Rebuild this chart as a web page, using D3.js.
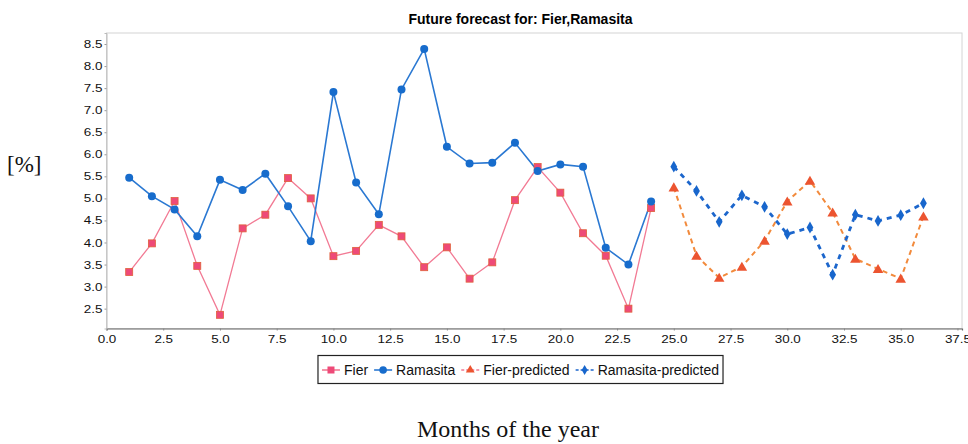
<!DOCTYPE html>
<html>
<head>
<meta charset="utf-8">
<script src="https://cdn.jsdelivr.net/npm/d3@7/dist/d3.min.js"></script>
<style>
  html, body { margin: 0; padding: 0; background: #fff; }
  svg { display: block; }
</style>
</head>
<body>
<div id="chart"></div>
<script>
// observed months
const months = [1, 2, 3, 4, 5, 6, 7, 8, 9, 10, 11, 12, 13, 14, 15, 16, 17, 18, 19, 20, 21, 22, 23, 24]
const fier = [3.33, 3.98, 4.94, 3.47, 2.36, 4.32, 4.63, 5.46, 5.00, 3.69, 3.81, 4.40,
              4.14, 3.44, 3.89, 3.18, 3.55, 4.96, 5.71, 5.13, 4.21, 3.70, 2.50, 4.78]
const ramasita = [5.47, 5.05, 4.75, 4.14, 5.42, 5.19, 5.56, 4.82, 4.03, 7.41, 5.36, 4.64,
                  7.47, 8.39, 6.17, 5.79, 5.81, 6.26, 5.62, 5.77, 5.72, 3.88, 3.50, 4.93]

// forecast months
const futureMonths = [25, 26, 27, 28, 29, 30, 31, 32, 33, 34, 35, 36]
const fierPredicted = [5.25, 3.70, 3.20, 3.45, 4.04, 4.93, 5.40, 4.68, 3.63, 3.40, 3.18, 4.59]
const ramasitaPredicted = [5.72, 5.17, 4.47, 5.07, 4.81, 4.19, 4.34, 3.27, 4.63, 4.49, 4.62, 4.89]

const xTicks = [0, 2.5, 5, 7.5, 10, 12.5, 15, 17.5, 20, 22.5, 25, 27.5, 30, 32.5, 35, 37.5]
const yTicks = [2.5, 3, 3.5, 4, 4.5, 5, 5.5, 6, 6.5, 7, 7.5, 8, 8.5]

const seriesNames = ["Fier", "Ramasita", "Fier-predicted", "Ramasita-predicted"]

const W = 968, H = 444
const plot = { left: 106.5, right: 962, top: 33, bottom: 328.5 }

const COLORS = {
  fierLine: "#f27a94",
  fierFill: "#ee4a78",
  fierEdge: "#e0603a",
  ramLine: "#2a78d2",
  ramFill: "#176ccc",
  fpLine: "#f28a3c",
  fpFill: "#ec5430",
  rpLine: "#1c66cc",
  rpFill: "#1866cc",
}

const SANS = "'Liberation Sans', Arial, sans-serif"
const SERIF = "'Liberation Serif', 'Times New Roman', serif"

const svg = d3.select("#chart").append("svg")
  .attr("width", W)
  .attr("height", H)
  .attr("viewBox", `0 0 ${W} ${H}`)

const x = d3.scaleLinear().domain([0, 37.7]).range([plot.left, plot.right])
const y = d3.scaleLinear().domain([2.05, 8.75]).range([plot.bottom, plot.top])

// plot outline
svg.append("rect")
  .attr("x", plot.left)
  .attr("y", plot.top)
  .attr("width", plot.right - plot.left)
  .attr("height", plot.bottom - plot.top)
  .attr("fill", "#fff")
  .attr("stroke", "#d4d4d4")
  .attr("stroke-width", 1)

// axes
const stretch = 1.22
function widen(sel) {
  sel.selectAll("text").each(function () {
    const len = this.getComputedTextLength()
    d3.select(this).attr("textLength", len * stretch).attr("lengthAdjust", "spacingAndGlyphs")
  })
}

const xAxis = svg.append("g")
  .attr("transform", `translate(0,${plot.bottom})`)
  .call(d3.axisBottom(x).tickValues(xTicks).tickFormat(d3.format(".1f")).tickSize(2).tickPadding(5))
xAxis.select(".domain").attr("stroke", "#666").attr("stroke-width", 1.2)
xAxis.selectAll(".tick line").attr("stroke", "#888")
xAxis.selectAll("text").attr("font-family", SANS).attr("font-size", 11).attr("fill", "#111")
widen(xAxis)

const yAxis = svg.append("g")
  .attr("transform", `translate(${plot.left},0)`)
  .call(d3.axisLeft(y).tickValues(yTicks).tickFormat(d3.format(".1f")).tickSize(2).tickPadding(2))
yAxis.select(".domain").attr("stroke", "#bbb")
yAxis.selectAll(".tick line").attr("stroke", "#999")
yAxis.selectAll("text").attr("font-family", SANS).attr("font-size", 11).attr("fill", "#111")
widen(yAxis)

// series
const observed = months.map((m, i) => ({ m, fier: fier[i], ram: ramasita[i] }))
const future = futureMonths.map((m, i) => ({ m, fier: fierPredicted[i], ram: ramasitaPredicted[i] }))

const lineOf = key => d3.line().x(d => x(d.m)).y(d => y(d[key]))

const triangle = d3.symbol().type(d3.symbolTriangle).size(48)
const diamond = d3.symbol().type(d3.symbolDiamond).size(40)

// Fier
svg.append("path")
  .datum(observed)
  .attr("d", lineOf("fier"))
  .attr("fill", "none")
  .attr("stroke", COLORS.fierLine)
  .attr("stroke-width", 1.3)

// Ramasita
svg.append("path")
  .datum(observed)
  .attr("d", lineOf("ram"))
  .attr("fill", "none")
  .attr("stroke", COLORS.ramLine)
  .attr("stroke-width", 1.6)

svg.append("g").selectAll("rect")
  .data(observed)
  .join("rect")
  .attr("x", d => x(d.m) - 3.5)
  .attr("y", d => y(d.fier) - 3.5)
  .attr("width", 7)
  .attr("height", 7)
  .attr("fill", COLORS.fierFill)
  .attr("stroke", COLORS.fierEdge)
  .attr("stroke-width", 0.8)

svg.append("g").selectAll("circle")
  .data(observed)
  .join("circle")
  .attr("cx", d => x(d.m))
  .attr("cy", d => y(d.ram))
  .attr("r", 4)
  .attr("fill", COLORS.ramFill)

// Fier-predicted
svg.append("path")
  .datum(future)
  .attr("d", lineOf("fier"))
  .attr("fill", "none")
  .attr("stroke", COLORS.fpLine)
  .attr("stroke-width", 2)
  .attr("stroke-dasharray", "5,4")

// Ramasita-predicted
svg.append("path")
  .datum(future)
  .attr("d", lineOf("ram"))
  .attr("fill", "none")
  .attr("stroke", COLORS.rpLine)
  .attr("stroke-width", 2.8)
  .attr("stroke-dasharray", "5,5")

svg.append("g").selectAll("path")
  .data(future)
  .join("path")
  .attr("d", triangle)
  .attr("transform", d => `translate(${x(d.m)},${y(d.fier) + 1})`)
  .attr("fill", COLORS.fpFill)

svg.append("g").selectAll("path")
  .data(future)
  .join("path")
  .attr("d", diamond)
  .attr("transform", d => `translate(${x(d.m)},${y(d.ram)})`)
  .attr("fill", COLORS.rpFill)

// title
svg.append("text")
  .attr("x", 520.5)
  .attr("y", 24)
  .attr("text-anchor", "middle")
  .attr("font-family", SANS)
  .attr("font-weight", "bold")
  .attr("font-size", 14)
  .attr("textLength", 224)
  .attr("lengthAdjust", "spacingAndGlyphs")
  .attr("fill", "#000")
  .text("Future forecast for: Fier,Ramasita")

// legend: laid out left to right, then boxed and centred
const legendStyle = [
  { line: COLORS.fierLine, dash: null, mark: "square", fill: COLORS.fierFill },
  { line: COLORS.ramLine, dash: null, mark: "circle", fill: COLORS.ramFill },
  { line: COLORS.fierLine, dash: "3,2", mark: "triangle", fill: COLORS.fpFill },
  { line: COLORS.rpLine, dash: "3,2", mark: "diamond", fill: COLORS.rpFill },
]
const ly = 370
const legend = svg.append("g")
const box = legend.append("rect")
const items = legend.append("g")
let cursor = 0

seriesNames.forEach((name, i) => {
  const s = legendStyle[i]
  const g = items.append("g")
  g.append("line")
    .attr("x1", cursor).attr("x2", cursor + 18)
    .attr("y1", ly).attr("y2", ly)
    .attr("stroke", s.line)
    .attr("stroke-width", 1.6)
    .attr("stroke-dasharray", s.dash)
  const cx = cursor + 9
  if (s.mark === "square") {
    g.append("rect").attr("x", cx - 3.5).attr("y", ly - 3.5).attr("width", 7).attr("height", 7).attr("fill", s.fill)
  } else if (s.mark === "circle") {
    g.append("circle").attr("cx", cx).attr("cy", ly).attr("r", 3.8).attr("fill", s.fill)
  } else if (s.mark === "triangle") {
    g.append("path").attr("d", d3.symbol().type(d3.symbolTriangle).size(34)()).attr("transform", `translate(${cx},${ly})`).attr("fill", s.fill)
  } else {
    g.append("path").attr("d", d3.symbol().type(d3.symbolDiamond).size(30)()).attr("transform", `translate(${cx},${ly})`).attr("fill", s.fill)
  }
  const t = g.append("text")
    .attr("x", cursor + 22)
    .attr("y", ly + 5)
    .attr("font-family", SANS)
    .attr("font-size", 14)
    .attr("fill", "#111")
    .text(name)
  cursor += 22 + t.node().getComputedTextLength() + 6
})

const legendW = cursor - 6 + 8
const legendX = 520.5 - legendW / 2
items.attr("transform", `translate(${legendX + 4},0)`)
box.attr("x", legendX)
  .attr("y", 355.5)
  .attr("width", legendW)
  .attr("height", 28)
  .attr("fill", "#fff")
  .attr("stroke", "#222")
  .attr("stroke-width", 1.2)

// outer axis labels (serif, added on the page around the chart)
svg.append("text")
  .attr("x", 7)
  .attr("y", 172)
  .attr("font-family", SERIF)
  .attr("font-size", 23)
  .attr("fill", "#111")
  .text("[%]")

svg.append("text")
  .attr("x", 508)
  .attr("y", 437)
  .attr("text-anchor", "middle")
  .attr("font-family", SERIF)
  .attr("font-size", 24)
  .attr("fill", "#111")
  .text("Months of the year")
</script>
</body>
</html>
